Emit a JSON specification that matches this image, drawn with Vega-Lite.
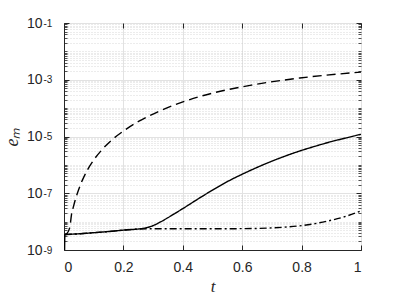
{
  "$schema": "https://vega.github.io/schema/vega-lite/v6.json",
  "width": 297,
  "height": 227,
  "autosize": "none",
  "padding": {"left": 64, "top": 23, "right": 38, "bottom": 50},
  "background": "white",
  "config": {
    "view": {"stroke": "#262626", "strokeWidth": 1},
    "font": "Liberation Sans",
    "axis": {"domainColor": "#262626", "tickColor": "#262626", "labelColor": "#262626", "titleColor": "#262626"}
  },
  "data": {
    "values": [
      {"t": 0, "e": 1e-12, "s": "solid"},
      {"t": 0.003, "e": 3.47e-9, "s": "solid"},
      {"t": 0.05, "e": 3.72e-9, "s": "solid"},
      {"t": 0.1, "e": 4.07e-9, "s": "solid"},
      {"t": 0.15, "e": 4.47e-9, "s": "solid"},
      {"t": 0.2, "e": 5.01e-9, "s": "solid"},
      {"t": 0.25, "e": 5.5e-9, "s": "solid"},
      {"t": 0.275, "e": 6.03e-9, "s": "solid"},
      {"t": 0.3, "e": 7.24e-9, "s": "solid"},
      {"t": 0.325, "e": 9.77e-9, "s": "solid"},
      {"t": 0.35, "e": 1.38e-8, "s": "solid"},
      {"t": 0.4, "e": 2.88e-8, "s": "solid"},
      {"t": 0.45, "e": 6.17e-8, "s": "solid"},
      {"t": 0.5, "e": 1.29e-7, "s": "solid"},
      {"t": 0.55, "e": 2.57e-7, "s": "solid"},
      {"t": 0.6, "e": 4.68e-7, "s": "solid"},
      {"t": 0.65, "e": 8.13e-7, "s": "solid"},
      {"t": 0.7, "e": 1.35e-6, "s": "solid"},
      {"t": 0.75, "e": 2.14e-6, "s": "solid"},
      {"t": 0.8, "e": 3.24e-6, "s": "solid"},
      {"t": 0.85, "e": 4.68e-6, "s": "solid"},
      {"t": 0.9, "e": 6.61e-6, "s": "solid"},
      {"t": 0.95, "e": 8.91e-6, "s": "solid"},
      {"t": 1.0, "e": 1.2e-5, "s": "solid"},

      {"t": 0.003, "e": 3.47e-9, "s": "dashdot"},
      {"t": 0.05, "e": 3.72e-9, "s": "dashdot"},
      {"t": 0.1, "e": 4.07e-9, "s": "dashdot"},
      {"t": 0.15, "e": 4.47e-9, "s": "dashdot"},
      {"t": 0.2, "e": 5.01e-9, "s": "dashdot"},
      {"t": 0.25, "e": 5.5e-9, "s": "dashdot"},
      {"t": 0.3, "e": 5.6e-9, "s": "dashdot"},
      {"t": 0.4, "e": 5.62e-9, "s": "dashdot"},
      {"t": 0.5, "e": 5.62e-9, "s": "dashdot"},
      {"t": 0.6, "e": 5.65e-9, "s": "dashdot"},
      {"t": 0.65, "e": 5.75e-9, "s": "dashdot"},
      {"t": 0.7, "e": 6.03e-9, "s": "dashdot"},
      {"t": 0.75, "e": 6.46e-9, "s": "dashdot"},
      {"t": 0.8, "e": 7.24e-9, "s": "dashdot"},
      {"t": 0.85, "e": 8.71e-9, "s": "dashdot"},
      {"t": 0.9, "e": 1.12e-8, "s": "dashdot"},
      {"t": 0.95, "e": 1.55e-8, "s": "dashdot"},
      {"t": 1.0, "e": 2.4e-8, "s": "dashdot"},

      {"t": 0.003, "e": 3.5e-9, "s": "dashed"},
      {"t": 0.01, "e": 3.8e-9, "s": "dashed"},
      {"t": 0.02, "e": 6.6e-9, "s": "dashed"},
      {"t": 0.025, "e": 1.7e-8, "s": "dashed"},
      {"t": 0.0316, "e": 3.3e-8, "s": "dashed"},
      {"t": 0.0398, "e": 6.8e-8, "s": "dashed"},
      {"t": 0.0501, "e": 1.41e-7, "s": "dashed"},
      {"t": 0.0631, "e": 3.09e-7, "s": "dashed"},
      {"t": 0.0794, "e": 6.76e-7, "s": "dashed"},
      {"t": 0.1, "e": 1.48e-6, "s": "dashed"},
      {"t": 0.126, "e": 3.24e-6, "s": "dashed"},
      {"t": 0.158, "e": 7.08e-6, "s": "dashed"},
      {"t": 0.2, "e": 1.55e-5, "s": "dashed"},
      {"t": 0.251, "e": 3.39e-5, "s": "dashed"},
      {"t": 0.316, "e": 7.41e-5, "s": "dashed"},
      {"t": 0.398, "e": 1.62e-4, "s": "dashed"},
      {"t": 0.458, "e": 2.57e-4, "s": "dashed"},
      {"t": 0.501, "e": 3.39e-4, "s": "dashed"},
      {"t": 0.631, "e": 6.46e-4, "s": "dashed"},
      {"t": 0.794, "e": 1.15e-3, "s": "dashed"},
      {"t": 1.0, "e": 1.86e-3, "s": "dashed"}
    ]
  },
  "layer": [
    {
      "mark": {"type": "line", "opacity": 0},
      "encoding": {
        "x": {"field": "t", "type": "quantitative", "scale": {"domain": [0, 1]}, "axis": null},
        "y": {
          "field": "e", "type": "quantitative",
          "scale": {"type": "log", "domain": [1e-9, 0.1]},
          "axis": {
            "orient": "left",
            "values": [2e-9,3e-9,4e-9,5e-9,6e-9,7e-9,8e-9,9e-9,1e-8,2e-8,3e-8,4e-8,5e-8,6e-8,7e-8,8e-8,9e-8,2e-7,3e-7,4e-7,5e-7,6e-7,7e-7,8e-7,9e-7,1e-6,2e-6,3e-6,4e-6,5e-6,6e-6,7e-6,8e-6,9e-6,2e-5,3e-5,4e-5,5e-5,6e-5,7e-5,8e-5,9e-5,1e-4,2e-4,3e-4,4e-4,5e-4,6e-4,7e-4,8e-4,9e-4,2e-3,3e-3,4e-3,5e-3,6e-3,7e-3,8e-3,9e-3,1e-2,2e-2,3e-2,4e-2,5e-2,6e-2,7e-2,8e-2,9e-2],
            "labels": false, "domain": false, "title": null,
            "tickSize": -3, "tickWidth": 0.8,
            "grid": true, "gridColor": "#c8c8c8", "gridDash": [1, 2], "gridWidth": 0.7
          }
        }
      }
    },
    {
      "mark": {"type": "line", "opacity": 0},
      "encoding": {
        "x": {"field": "t", "type": "quantitative", "scale": {"domain": [0, 1]},
          "axis": {"orient": "top", "values": [0, 0.2, 0.4, 0.6, 0.8, 1], "labels": false, "domain": false, "grid": false, "title": null, "tickSize": -5}},
        "y": {"field": "e", "type": "quantitative", "scale": {"type": "log", "domain": [1e-9, 0.1]},
          "axis": {"orient": "right", "values": [1e-9, 1e-7, 1e-5, 1e-3, 1e-1], "labels": false, "domain": false, "grid": false, "title": null, "tickSize": -5}}
      }
    },
    {
      "mark": {"type": "line", "opacity": 0},
      "encoding": {
        "x": {"field": "t", "type": "quantitative", "scale": {"domain": [0, 1]}, "axis": null},
        "y": {"field": "e", "type": "quantitative", "scale": {"type": "log", "domain": [1e-9, 0.1]},
          "axis": {"orient": "right",
            "values": [2e-9,3e-9,4e-9,5e-9,6e-9,7e-9,8e-9,9e-9,1e-8,2e-8,3e-8,4e-8,5e-8,6e-8,7e-8,8e-8,9e-8,2e-7,3e-7,4e-7,5e-7,6e-7,7e-7,8e-7,9e-7,1e-6,2e-6,3e-6,4e-6,5e-6,6e-6,7e-6,8e-6,9e-6,2e-5,3e-5,4e-5,5e-5,6e-5,7e-5,8e-5,9e-5,1e-4,2e-4,3e-4,4e-4,5e-4,6e-4,7e-4,8e-4,9e-4,2e-3,3e-3,4e-3,5e-3,6e-3,7e-3,8e-3,9e-3,1e-2,2e-2,3e-2,4e-2,5e-2,6e-2,7e-2,8e-2,9e-2],
            "labels": false, "domain": false, "grid": false, "title": null, "tickSize": -3, "tickWidth": 0.8}}
      }
    },
    {
      "mark": {"type": "line", "opacity": 0},
      "encoding": {
        "x": {"field": "t", "type": "quantitative", "scale": {"domain": [0, 1]}, "axis": null},
        "y": {"field": "e", "type": "quantitative", "scale": {"type": "log", "domain": [1e-9, 0.1]},
          "axis": {"orient": "left", "values": [1e-9, 1e-7, 1e-5, 1e-3, 1e-1],
            "labelExpr": "'' + round(log(datum.value)/LN10)",
            "labelAlign": "left", "labelFontSize": 10, "labelPadding": 21, "labelDy": -8,
            "ticks": false, "domain": false, "grid": false, "title": null}}
      }
    },
    {
      "mark": {"type": "line", "clip": true, "color": "black", "strokeWidth": 1.4, "interpolate": "monotone"},
      "encoding": {
        "x": {
          "field": "t", "type": "quantitative", "scale": {"domain": [0, 1]},
          "axis": {
            "orient": "bottom", "values": [0, 0.2, 0.4, 0.6, 0.8, 1], "format": "~g",
            "labelFontSize": 14, "labelPadding": 15, "tickSize": -5,
            "grid": true, "gridColor": "#e2e2e2", "gridWidth": 1,
            "title": "t", "titleFont": "Liberation Serif", "titleFontStyle": "italic", "titleFontWeight": "normal", "titleFontSize": 17, "titlePadding": 4
          }
        },
        "y": {
          "field": "e", "type": "quantitative",
          "scale": {"type": "log", "domain": [1e-9, 0.1]},
          "axis": {
            "orient": "left", "values": [1e-9, 1e-7, 1e-5, 1e-3, 1e-1],
            "labelExpr": "'10'",
            "labelFontSize": 14, "labelPadding": 27, "labelDy": -3, "tickSize": -5,
            "grid": true, "gridColor": "#e2e2e2", "gridWidth": 1,
            "title": "eₘ", "titleFont": "Liberation Serif", "titleFontStyle": "italic", "titleFontWeight": "normal", "titleFontSize": 18, "titlePadding": 5
          }
        },
        "strokeDash": {
          "field": "s", "type": "nominal",
          "scale": {"domain": ["solid", "dashed", "dashdot"], "range": [[1, 0], [9, 5], [7, 3, 2, 3]]},
          "legend": null
        }
      }
    }
  ],
  "resolve": {"axis": {"x": "independent", "y": "independent"}}
}
